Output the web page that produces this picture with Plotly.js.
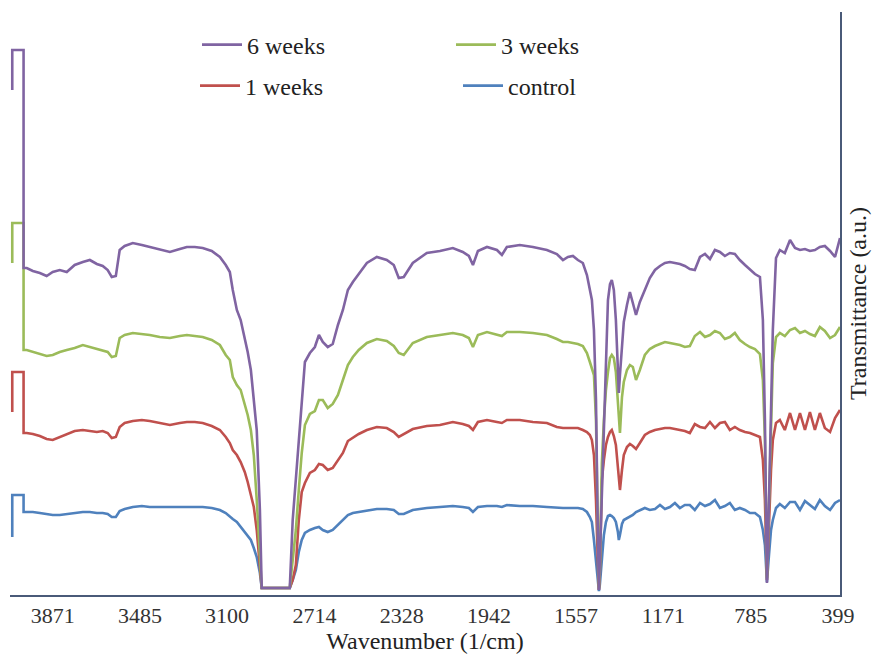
<!DOCTYPE html>
<html><head><meta charset="utf-8">
<script src="https://cdn.plot.ly/plotly-3.0.1.min.js"></script>
<style>
html,body{margin:0;padding:0;background:#fff}
#chart{width:873px;height:659px}
#chart svg text{font-family:'Liberation Serif','Times New Roman',serif !important;}
</style>
</head><body><div id="chart"></div>
<script>
// Wavenumber grid (1/cm)
const wavenumber = [
4050,4050,4000,4000,3986,3959,3928,3898,3871,3840,
3809,3774,3738,3707,3676,3650,3628,3610,3592,3575,
3553,3517,3477,3442,3398,3353,3309,3278,3243,3208,
3168,3132,3106,3088,3075,3057,3040,3022,3009,2995,
2982,2969,2955,2947,2885,2823,2810,2796,2783,2770,
2756,2734,2712,2694,2677,2655,2633,2610,2588,2566,
2544,2518,2482,2438,2394,2363,2341,2319,2279,2217,
2159,2102,2058,2031,2013,1991,1951,1907,1885,1863,
1806,1748,1686,1642,1615,1593,1571,1549,1527,1509,
1496,1487,1478,1469,1461,1456,1452,1443,1434,1425,
1416,1407,1399,1390,1381,1372,1368,1363,1354,1346,
1332,1319,1306,1292,1275,1253,1231,1208,1186,1164,
1142,1120,1098,1076,1054,1032,1009,987,965,943,
921,899,877,855,833,810,788,766,744,731,
722,713,704,695,687,673,656,634,611,589,
567,545,523,501,479,457,434,412,390];

const week6 = [
50.5,54.5,54.5,32.7,32.7,32.4,32.2,31.9,32.3,32.5,
32.3,33.0,33.3,33.5,33.1,32.9,32.5,31.8,31.9,34.5,
34.9,35.2,35.0,34.8,34.5,34.3,34.6,34.8,34.8,34.7,
34.4,33.8,33.0,32.3,30.5,28.5,27.5,25.7,24.3,22.5,
19.5,16.5,8.5,0.7,0.7,0.7,7.5,11.5,15.0,19.2,
23.3,24.2,24.8,26.0,25.3,24.8,25.1,27.0,28.5,30.5,
31.3,32.1,33.2,33.8,33.5,33.0,31.7,31.8,33.2,34.2,
34.4,34.7,34.3,33.9,33.0,34.4,34.8,34.5,34.0,34.8,
35.0,34.8,34.5,34.1,33.5,33.8,33.9,33.5,33.2,32.0,
30.7,29.5,26.5,19.5,6.5,0.5,3.5,9.8,16.5,23.5,
29.5,31.1,31.5,30.5,27.5,22.5,20.2,22.0,24.8,27.3,
29.0,30.3,29.2,28.0,29.3,30.5,31.7,32.5,32.9,33.2,
33.3,33.2,33.1,32.9,32.6,32.5,33.8,34.1,33.6,34.5,
34.3,33.9,34.2,34.1,33.5,33.0,32.5,32.1,31.8,27.5,
17.5,1.2,9.5,17.5,26.5,33.7,34.5,34.2,35.5,34.7,
34.5,34.6,34.4,34.5,34.8,34.9,34.4,33.8,35.7];

const week3 = [
33.2,37.2,37.2,24.5,24.5,24.3,24.1,23.9,24.0,24.3,
24.5,24.7,25.0,24.8,24.6,24.5,24.3,23.8,23.9,25.7,
26.0,26.2,26.1,26.0,25.8,25.7,25.9,26.0,25.9,25.8,
25.5,25.0,24.0,23.5,21.8,21.0,20.5,19.0,18.0,16.5,
14.0,9.5,3.5,0.7,0.7,0.7,3.5,6.5,10.5,14.2,
17.0,18.1,18.4,19.5,19.5,18.7,19.1,20.0,21.5,23.0,
23.8,24.5,25.2,25.6,25.4,24.9,24.2,24.0,25.2,25.8,
26.0,26.2,26.0,25.7,24.8,26.0,26.3,26.0,25.9,26.3,
26.3,26.2,26.0,25.6,25.3,25.3,25.2,25.1,24.9,24.2,
23.3,22.7,22.0,17.5,6.5,0.7,2.5,13.2,17.5,20.5,
22.3,23.7,24.0,23.7,22.3,19.0,17.0,16.2,19.8,21.3,
22.5,23.0,22.8,21.5,22.5,24.0,24.6,24.9,25.1,25.3,
25.2,25.1,25.0,24.8,24.9,25.9,26.3,25.8,26.0,26.4,
26.2,25.6,25.8,26.2,25.5,25.1,24.8,24.6,24.1,21.5,
15.5,1.7,9.5,16.5,23.2,25.8,26.2,25.9,26.5,26.7,
26.2,26.4,26.1,25.9,26.8,26.4,25.7,26.0,26.8];

const week1 = [
18.3,22.3,22.3,16.2,16.2,16.1,15.9,15.6,15.5,15.8,
16.1,16.4,16.5,16.4,16.3,16.4,16.2,15.7,15.8,16.8,
17.2,17.4,17.5,17.4,17.2,17.0,17.2,17.3,17.3,17.2,
16.9,16.5,15.8,15.2,14.5,14.0,13.3,12.3,11.3,10.0,
8.8,6.5,2.5,0.7,0.7,0.7,1.5,3.0,7.5,10.3,
11.2,12.2,12.5,13.1,13.0,12.5,12.7,13.5,14.2,15.4,
15.7,16.1,16.5,16.8,16.7,16.3,15.8,16.1,16.6,16.9,
17.0,17.3,17.1,16.9,16.5,17.3,17.5,17.3,17.2,17.5,
17.5,17.3,17.2,16.8,16.7,16.7,16.7,16.7,16.5,16.3,
16.0,15.5,14.0,9.5,3.5,0.5,2.0,11.5,13.5,15.0,
15.8,16.3,16.5,15.9,15.0,12.5,11.0,10.5,12.5,14.0,
14.8,15.1,14.9,14.6,15.2,16.0,16.3,16.5,16.6,16.7,
16.7,16.6,16.5,16.4,16.2,17.1,16.8,16.7,17.3,16.7,
17.2,17.3,16.5,16.8,16.5,16.3,16.2,16.0,15.8,13.5,
9.5,1.5,7.5,12.5,15.5,17.2,17.5,16.5,18.2,16.5,
18.2,16.5,18.3,16.5,18.2,16.7,16.3,17.7,18.5];

const control = [
5.8,10.0,10.0,8.3,8.3,8.3,8.2,8.1,8.0,8.0,
8.1,8.2,8.3,8.3,8.2,8.2,8.1,7.8,7.8,8.4,
8.6,8.8,8.9,8.8,8.8,8.8,8.8,8.8,8.8,8.8,
8.7,8.5,8.2,7.8,7.6,7.3,6.8,6.3,6.0,5.5,
4.7,3.8,2.2,0.7,0.7,0.7,1.5,2.5,4.3,5.5,
6.2,6.5,6.7,6.8,6.5,6.3,6.5,7.0,7.5,8.0,
8.2,8.3,8.5,8.6,8.6,8.5,8.1,8.1,8.5,8.7,
8.8,8.9,8.8,8.7,8.3,8.8,8.9,8.9,8.8,9.0,
8.9,8.9,8.8,8.7,8.7,8.7,8.7,8.7,8.6,8.3,
7.8,7.3,5.5,3.5,1.0,0.4,1.0,3.5,6.0,7.3,
7.9,8.0,7.9,7.7,7.3,6.3,5.5,6.0,7.1,7.5,
7.7,7.8,8.0,8.3,8.5,8.7,8.5,8.6,9.0,8.6,
8.8,9.2,8.7,9.0,9.0,8.5,9.2,8.9,9.1,9.5,
8.7,8.9,9.2,8.5,8.7,8.5,8.2,8.2,7.8,6.5,
5.0,1.3,4.0,6.5,7.5,8.7,9.1,8.7,9.3,9.3,
8.5,9.4,9.0,8.6,9.5,8.9,8.5,9.2,9.5];

const tickValues = [3871, 3485, 3100, 2714, 2328, 1942, 1557, 1171, 785, 399];
const tickLabels = ['3871','3485','3100','2714','2328','1942','1557','1171','785','399'];

const seriesNames = ['control', '1 weeks', '3 weeks', '6 weeks'];
const seriesValues = [control, week1, week3, week6];
const seriesColors = ['#4f81bd', '#c0504d', '#9bbb59', '#8064a2'];
const seriesLegends = ['legend4', 'legend3', 'legend2', 'legend'];

const TEXT_FONT = 'Liberation Serif';
const traces = seriesNames.map((name, i) => ({
  type: 'scatter', mode: 'lines', name: name,
  x: wavenumber, y: seriesValues[i],
  line: {color: seriesColors[i], width: 2.6},
  legend: seriesLegends[i],
  hoverinfo: 'x+y+name'
}));

// plot area: left 10, right 840, top 12, bottom 595
function legendAt(px, py) {
  return {
    x: (px - 10) / 830, y: (595 - py) / 583, xref: 'paper', yref: 'paper',
    xanchor: 'left', yanchor: 'middle', bgcolor: 'rgba(0,0,0,0)',
    font: {family: TEXT_FONT, size: 24, color: '#222'}, itemwidth: 40
  };
}

const layout = {
  width: 873, height: 659,
  margin: {l: 10, r: 33, t: 12, b: 64},
  paper_bgcolor: '#fff', plot_bgcolor: '#fff',
  font: {family: TEXT_FONT},
  showlegend: true,
  legend: legendAt(197, 45),
  legend2: legendAt(451, 45),
  legend3: legendAt(195, 86),
  legend4: legendAt(458, 86),
  xaxis: {
    range: [4060, 390], showgrid: false, zeroline: false,
    showline: true, linecolor: '#4a5a78', linewidth: 1.5,
    ticks: '', tickvals: tickValues, ticktext: tickLabels, tickangle: 0,
    tickfont: {family: TEXT_FONT, size: 22, color: '#333'},
    automargin: false,
    title: {text: 'Wavenumber (1/cm)', font: {family: TEXT_FONT, size: 24, color: '#222'}, standoff: 4}
  },
  yaxis: {
    range: [0, 58.3], side: 'right', showgrid: false, zeroline: false,
    showline: true, linecolor: '#4a5a78', linewidth: 1.5,
    ticks: '', showticklabels: false, automargin: false,
    title: {text: 'Transmittance (a.u.)', font: {family: TEXT_FONT, size: 24, color: '#222'}, standoff: 8}
  }
};

Plotly.newPlot('chart', traces, layout, {displayModeBar: false, responsive: false});
</script>
</body></html>
